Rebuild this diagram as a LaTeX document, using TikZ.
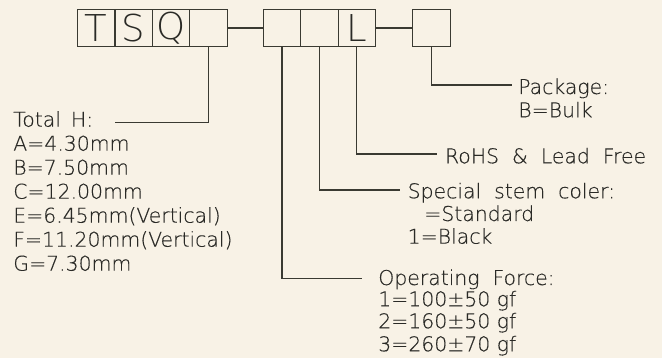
\documentclass[tikz,border=0pt]{standalone}
\usepackage{fontspec}
\newfontfamily\cad[FakeBold=0.25]{DejaVu Sans ExtraLight}
\newfontfamily\cadbox{DejaVu Sans ExtraLight}
\definecolor{bg}{HTML}{F8F2E6}
\definecolor{ln}{HTML}{3A3A32}
\definecolor{tx}{HTML}{2A2A26}
\tikzset{
  cell/.style={draw=ln, line width=1.2pt, minimum width=37.4pt, minimum height=37.4pt, inner sep=0pt, outer sep=0pt, text=tx, font=\cadbox\fontsize{37}{37}\selectfont},
  lead/.style={draw=ln, line width=1.1pt},
  lbl/.style={anchor=base west, inner sep=0pt, outer sep=0pt, text=tx, font=\cad\fontsize{20.4}{24}\selectfont}
}
\begin{document}
\begin{tikzpicture}[x=1pt,y=-1pt]
\fill[bg] (0,0) rectangle (662,358);
\useasboundingbox (0,0) rectangle (662,358);
% boxes
\node[cell] (b1) at (96.2,28) {T};
\node[cell, anchor=west] (b2) at (b1.east) {S};
\node[cell, anchor=west] (b3) at (b2.east) {Q};
\node[cell, anchor=west] (b4) at (b3.east) {};
\node[cell] (b5) at (282,28) {};
\node[cell, anchor=west] (b6) at (b5.east) {};
\node[cell, anchor=west] (b7) at (b6.east) {L};
\node[cell] (b8) at (431.4,28) {};
\draw[lead] (b4.east) -- (b5.west);
\draw[lead] (b7.east) -- (b8.west);
% leader ends
\coordinate (th) at (115,122.7);
\coordinate (pk) at (511.7,85);
\coordinate (rh) at (436.7,154);
\coordinate (sp) at (400,190);
\coordinate (of) at (361.7,278.3);
\draw[lead] (b4.south) |- (th);
\draw[lead] (b8.south) |- (pk);
\draw[lead] (b7.south) |- (rh);
\draw[lead] (b6.south) |- (sp);
\draw[lead] (b5.south) |- (of);
% Total H
\node[lbl] (t0) at (13.3,126.7) {Total\hspace{10pt}H:};
\node[lbl] (t1) at (13.3,150.7) {A=4.30mm};
\node[lbl] (t2) at (13.3,174.7) {B=7.50mm};
\node[lbl] (t3) at (13.3,198.7) {C=12.00mm};
\node[lbl] (t4) at (13.3,222.7) {E=6.45mm(Vertical)};
\node[lbl] (t5) at (13.3,246.7) {F=11.20mm(Vertical)};
\node[lbl] (t6) at (13.3,270.7) {G=7.30mm};
% package
\node[lbl] (p0) at (518.3,94) {Package:};
\node[lbl] (p1) at (518.3,117.3) {B=Bulk};
% rohs
\node[lbl] (r0) at (445,163.3) {RoHS\ \ \&\ \ Lead\ \ Free};
% special
\node[lbl] (s0) at (407.7,198.3) {Special\ \ stem\ \ coler:};
\node[lbl] (s1) at (424.3,221) {=Standard};
\node[lbl] (s2) at (407.7,243.7) {1=Black};
% operating force
\node[lbl] (o0) at (378.3,285) {Operating\ \ Force:};
\node[lbl] (o1) at (378.3,306.3) {1=100±50 gf};
\node[lbl] (o2) at (378.3,328.3) {2=160±50 gf};
\node[lbl] (o3) at (378.3,351.3) {3=260±70 gf};
\end{tikzpicture}
\end{document}
